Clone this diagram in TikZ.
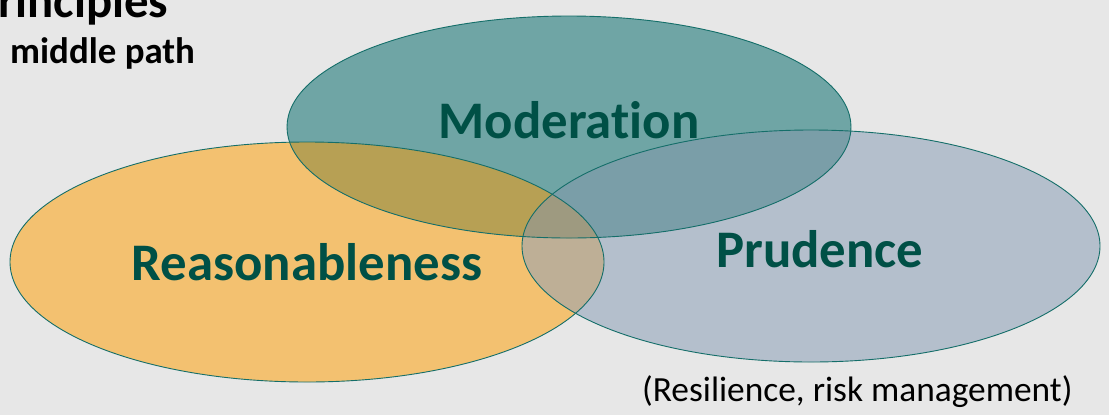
\documentclass[tikz,border=0pt]{standalone}
\usepackage{fontspec}
\setmainfont{Carlito}[Ligatures=NoCommon]
\usepackage{xcolor}
\definecolor{bg}{RGB}{231,231,231}
\definecolor{tealfill}{RGB}{111,165,165}
\definecolor{orangefill}{RGB}{243,193,112}
\definecolor{greyfill}{RGB}{180,191,204}
\definecolor{olivefill}{RGB}{183,160,84}
\definecolor{slatefill}{RGB}{122,158,168}
\definecolor{tanfill}{RGB}{190,175,150}
\definecolor{midfill}{RGB}{158,154,128}
\definecolor{rim}{RGB}{20,110,105}
\definecolor{word}{RGB}{0,80,70}

\begin{document}
\begin{tikzpicture}[x=1bp,y=-1bp,
	rim/.style={draw=rim,line width=0.9bp},
	word/.style={text=word,font=\bfseries\fontsize{53}{60}\selectfont},
	note/.style={font=\fontsize{35.5}{40}\selectfont}]
		\fill[bg] (0,0) rectangle (1109,415);
		\useasboundingbox (0,0) rectangle (1109,415);
		\fill[orangefill] (307,262) ellipse [x radius=297, y radius=120];
		\fill[greyfill] (811,246) ellipse [x radius=289, y radius=116];
		\fill[tealfill] (569,127) ellipse [x radius=282, y radius=111];
		\begin{scope}
			\clip (307,262) ellipse [x radius=297, y radius=120];
			\fill[tanfill] (811,246) ellipse [x radius=289, y radius=116];
			\fill[olivefill] (569,127) ellipse [x radius=282, y radius=111];
			\clip (811,246) ellipse [x radius=289, y radius=116];
			\fill[midfill] (569,127) ellipse [x radius=282, y radius=111];
		\end{scope}
		\begin{scope}[even odd rule]
			\clip (811,246) ellipse [x radius=289, y radius=116];
			\clip (0,0) rectangle (1109,415) (307,262) ellipse [x radius=297, y radius=120];
			\fill[slatefill] (569,127) ellipse [x radius=282, y radius=111];
		\end{scope}
		\draw[rim] (307,262) ellipse [x radius=297, y radius=120];
		\draw[rim] (811,246) ellipse [x radius=289, y radius=116];
		\draw[rim] (569,127) ellipse [x radius=282, y radius=111];
		\node[word,anchor=base] (moderation) at (569,138) {Moderation};
		\node[word] (reason) at (307,262) {Reasonableness};
		\node[word] (prudence) at (820,249) {Prudence};
		\node[note,anchor=base east] (resilience) at (1076,401) {(Resilience, risk management)};
		\node[font=\bfseries\fontsize{49}{54}\selectfont,anchor=base west,inner sep=0pt] (principles) at (-28,17) {Principles};
		\node[font=\bfseries\fontsize{37}{42}\selectfont,anchor=base west,inner sep=0pt] (path) at (10,63) {middle path};
\end{tikzpicture}
\end{document}
